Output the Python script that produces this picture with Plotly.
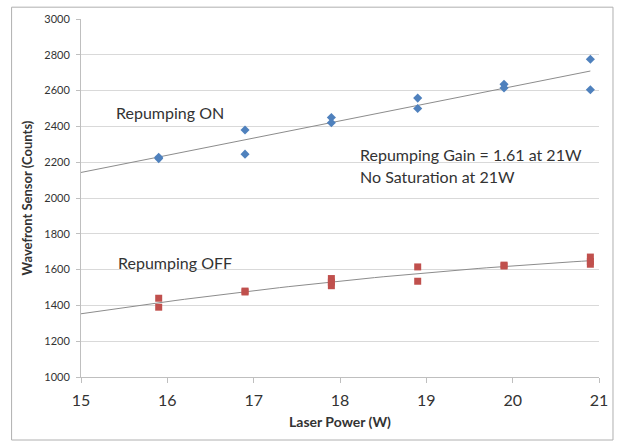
import numpy as np
import plotly.graph_objects as go

# Data
on_x = [15.9, 15.9, 16.9, 16.9, 17.9, 17.9, 18.9, 18.9, 19.9, 19.9, 20.9, 20.9]
on_y = [2220, 2228, 2380, 2245, 2450, 2420, 2558, 2500, 2635, 2615, 2775, 2605]
off_x = [15.9, 15.9, 16.9, 16.9, 17.9, 17.9, 17.9, 18.9, 18.9, 19.9, 19.9, 20.9, 20.9, 20.9]
off_y = [1440, 1390, 1480, 1475, 1550, 1530, 1510, 1615, 1535, 1620, 1625, 1670, 1645, 1630]

x_ticks = [15, 16, 17, 18, 19, 20, 21]
y_ticks = [1000, 1200, 1400, 1600, 1800, 2000, 2200, 2400, 2600, 2800, 3000]

font = "Lato"

# Trendlines (Excel-style): linear for ON, 2nd-order polynomial for OFF
xs = np.linspace(15, 20.9, 60)
p_on = np.polyfit(on_x, on_y, 1)
p_off = np.polyfit(off_x, off_y, 2)

fig = go.Figure()
fig.add_trace(go.Scatter(x=xs, y=np.polyval(p_on, xs), mode="lines",
                         line=dict(color="#8c8c8c", width=1), hoverinfo="skip"))
fig.add_trace(go.Scatter(x=xs, y=np.polyval(p_off, xs), mode="lines",
                         line=dict(color="#8c8c8c", width=1), hoverinfo="skip"))
fig.add_trace(go.Scatter(x=on_x, y=on_y, mode="markers",
                         marker=dict(symbol="diamond", size=7, color="#4F81BD")))
fig.add_trace(go.Scatter(x=off_x, y=off_y, mode="markers",
                         marker=dict(symbol="square", size=7, color="#C0504D")))

ann_font = dict(family=font, size=16, color="#333333")
fig.add_annotation(x=15.38, y=2475, text="Repumping ON", showarrow=False,
                   xanchor="left", font=ann_font)
fig.add_annotation(x=15.4, y=1640, text="Repumping OFF", showarrow=False,
                   xanchor="left", font=ann_font)
fig.add_annotation(x=18.21, y=2241, text="Repumping Gain = 1.61 at 21W", showarrow=False,
                   xanchor="left", font=ann_font)
fig.add_annotation(x=18.21, y=2122, text="No Saturation at 21W", showarrow=False,
                   xanchor="left", font=ann_font)

fig.add_shape(type="rect", xref="paper", yref="paper",
              x0=-0.134, x1=1.027, y0=-0.176, y1=1.033,
              line=dict(color="#b0b0b0", width=1))

fig.update_layout(
    width=620, height=442,
    margin=dict(l=81, r=18, t=14, b=65),
    paper_bgcolor="white", plot_bgcolor="white",
    showlegend=False,
    font=dict(family=font, color="#333333"),
    xaxis=dict(range=[15, 21], tickvals=x_ticks, showgrid=False,
               showline=True, linecolor="#bfbfbf", ticks="outside", ticklen=5,
               tickcolor="#bfbfbf", ticklabelstandoff=4,
               tickfont=dict(size=16, family=font, color="#333333"),
               title=dict(text="<b>Laser Power (W)</b>", font=dict(size=14, family=font),
                          standoff=8),
               zeroline=False),
    yaxis=dict(range=[1000, 3000], tickvals=y_ticks, showgrid=True,
               gridcolor="#d9d9d9", gridwidth=1,
               showline=True, linecolor="#bfbfbf", ticks="outside", ticklen=4,
               tickcolor="#bfbfbf", ticklabelstandoff=4,
               tickfont=dict(size=11, family=font, color="#333333"),
               title=dict(text="<b>Wavefront Sensor (Counts)</b>", font=dict(size=13, family=font),
                          standoff=8),
               zeroline=False),
)

fig.write_html("out.html")
